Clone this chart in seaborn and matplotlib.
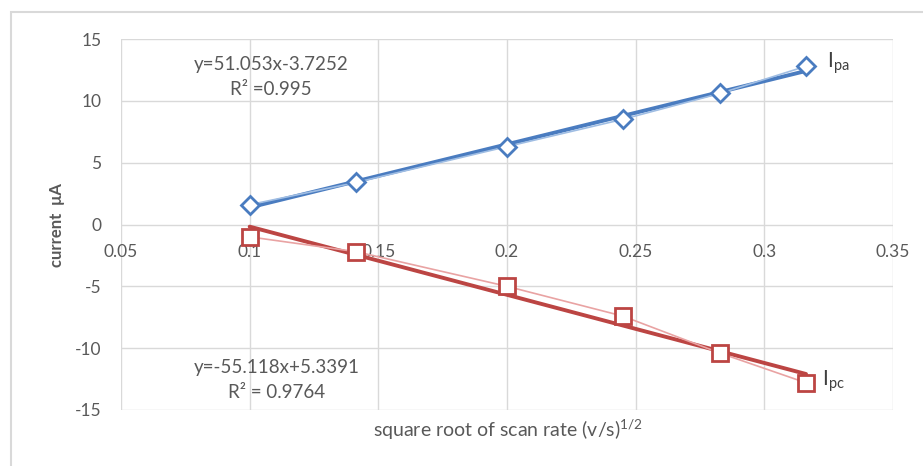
import numpy as np
import pandas as pd
import matplotlib
matplotlib.use("Agg")
import matplotlib.pyplot as plt
from matplotlib.patches import Rectangle
import seaborn as sns

# ---- data ----
scan_rate_sqrt = [0.1, 0.1414, 0.2, 0.2449, 0.2828, 0.3162]
ipa = [1.6, 3.4, 6.3, 8.5, 10.6, 12.8]
ipc = [-1.0, -2.2, -5.0, -7.4, -10.4, -12.8]
ipa_fit = (51.053, -3.7252)
ipc_fit = (-55.118, 5.3391)
ipa_eq = "y=51.053x-3.7252"
ipa_r2 = "R² =0.995"
ipc_eq = "y=-55.118x+5.3391"
ipc_r2 = "R² = 0.9764"
xticks = [0.05, 0.1, 0.15, 0.2, 0.25, 0.3, 0.35]
xticklabels = ["0.05", "0.1", "0.15", "0.2", "0.25", "0.3", "0.35"]
yticks = [-15, -10, -5, 0, 5, 10, 15]

sns.set_theme(style="white")
plt.rcParams['font.family'] = ['Lato', 'DejaVu Sans']
plt.rcParams['mathtext.fontset'] = 'custom'
plt.rcParams['mathtext.rm'] = 'Lato'
plt.rcParams['mathtext.it'] = 'Lato'
plt.rcParams['axes.unicode_minus'] = False

TXT = "#595959"
BLUE = "#4a7cc0"
BLUE_L = "#9fbde3"
RED = "#bc4543"
RED_L = "#e9a3a3"

fig = plt.figure(figsize=(9.23, 4.66), dpi=100)
fig.patch.set_facecolor("white")
ax = fig.add_axes([121/923, 1-410/466, (893-121)/923, (410-39)/466])

df = pd.DataFrame({"x": scan_rate_sqrt, "ipa": ipa, "ipc": ipc})

# trend lines
xs = np.array([min(scan_rate_sqrt), max(scan_rate_sqrt)])
tdf = pd.DataFrame({"x": xs,
                    "ta": ipa_fit[0]*xs + ipa_fit[1],
                    "tc": ipc_fit[0]*xs + ipc_fit[1]})
sns.lineplot(data=tdf, x="x", y="ta", ax=ax, color=BLUE, lw=2.8, zorder=3)
sns.lineplot(data=tdf, x="x", y="tc", ax=ax, color=RED, lw=2.8, zorder=3)

# data lines
sns.lineplot(data=df, x="x", y="ipa", ax=ax, color=BLUE_L, lw=1.2, zorder=4,
             marker="D", markersize=9, markerfacecolor="white",
             markeredgecolor=BLUE, markeredgewidth=2)
sns.lineplot(data=df, x="x", y="ipc", ax=ax, color=RED_L, lw=1.2, zorder=4,
             marker="s", markersize=11, markerfacecolor="white",
             markeredgecolor=RED, markeredgewidth=2)
for l in ax.lines:
    l.set_clip_on(False)

ax.set_xlim(0.05, 0.35)
ax.set_ylim(-15, 15)
ax.set_xticks(xticks)
ax.set_xticklabels(xticklabels)
ax.set_yticks(yticks)
ax.grid(True, color="#d9d9d9", lw=1)
ax.set_axisbelow(True)
for s in ax.spines.values():
    s.set_visible(False)
ax.spines['bottom'].set_position(('data', 0))
ax.tick_params(axis='both', length=0, labelsize=12.5, labelcolor=TXT)
ax.tick_params(axis='x', pad=14)
ax.tick_params(axis='y', pad=14)
ax.set_xlabel("")
ax.set_ylabel("")

fig.text(57/923, 1-225/466, "current  μA", rotation=90, ha="center", va="center",
         fontsize=12, fontweight="bold", color=TXT)
fig.text(508/923, 1-430/466, r"square root of scan rate (v/s)$^{1/2}$",
         ha="center", va="center", fontsize=14, color=TXT)

ax.text(0.1083, 12.9, ipa_eq, ha="center", va="center", fontsize=13.5, color=TXT)
ax.text(0.1083, 10.9, ipa_r2, ha="center", va="center", fontsize=13.5, color=TXT)
ax.text(0.1106, -11.6, ipc_eq, ha="center", va="center", fontsize=13.5, color=TXT)
ax.text(0.1106, -13.6, ipc_r2, ha="center", va="center", fontsize=13.5, color=TXT)

ax.text(0.3245, 13.0, r"I$_{\mathrm{pa}}$", ha="left", va="center", fontsize=15, color="#404040")
ax.text(0.3225, -12.7, r"I$_{\mathrm{pc}}$", ha="left", va="center", fontsize=15, color="#404040")

fig.add_artist(Rectangle((11/923, -0.05), 1.2, 1-12/466+0.05, transform=fig.transFigure,
                         fill=False, edgecolor="#d9d9d9", lw=1.5))

fig.savefig("out.png", dpi=100)
